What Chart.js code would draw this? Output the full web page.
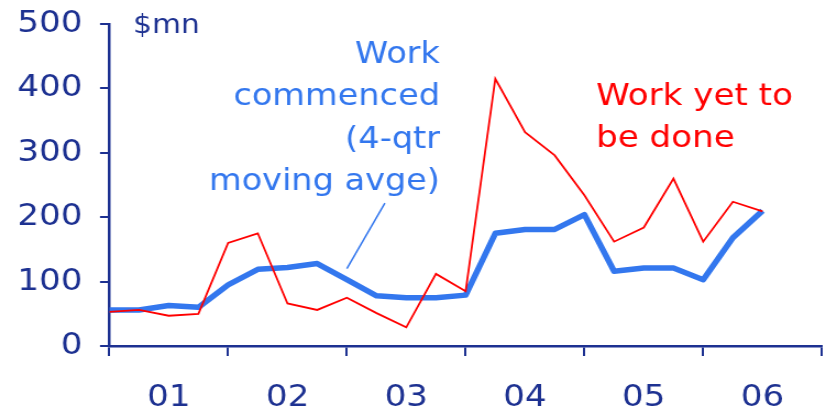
<!DOCTYPE html>
<html>
<head>
<meta charset="utf-8">
<script src="https://cdn.jsdelivr.net/npm/chart.js@4"></script>
<style>
  html, body { margin: 0; padding: 0; background: #fff; }
  #chart { display: block; width: 826px; height: 411px; }
</style>
</head>
<body>
<canvas id="chart" width="751" height="411" style="width:826px;height:411px"></canvas>
<script>
// quarterly data, 2001 Q1 to 2006 Q3
const quarters = ['01Q1','01Q2','01Q3','01Q4','02Q1','02Q2','02Q3','02Q4',
  '03Q1','03Q2','03Q3','03Q4','04Q1','04Q2','04Q3','04Q4',
  '05Q1','05Q2','05Q3','05Q4','06Q1','06Q2','06Q3'];
const workCommenced = [56, 56, 63, 60, 95, 119, 122, 128, 103, 78, 75, 75,
  79, 175, 181, 181, 204, 116, 121, 121, 103, 168, 210];
const workYetToBeDone = [53, 56, 47, 50, 160, 175, 66, 56, 75, 51, 29, 112,
  85, 415, 332, 296, 234, 162, 184, 260, 162, 224, 209];
const yearLabels = ['01', '02', '03', '04', '05', '06'];
const xTickValues = [0, 2, 4, 6, 8, 10, 12, 14, 16, 18, 20, 22, 24];
const yTickValues = [0, 100, 200, 300, 400, 500];

const navy = '#1d3191';
const blue = '#3377ee';
const red = '#ff0000';
const fontFamily = '"DejaVu Sans", Verdana, sans-serif';

// labels drawn on top of the chart
const annotations = {
  id: 'annotations',
  afterDraw(chart) {
    const ctx = chart.ctx;
    const x = chart.scales.x;
    const y = chart.scales.y;
    ctx.save();

    ctx.fillStyle = navy;
    ctx.font = '27px ' + fontFamily;
    ctx.textAlign = 'left';
    ctx.textBaseline = 'alphabetic';
    ctx.fillText('$mn', 121, 33);

    ctx.fillStyle = blue;
    ctx.font = '30.5px ' + fontFamily;
    ctx.textAlign = 'right';
    ['Work', 'commenced', '(4-qtr', 'moving avge)'].forEach((t, i) => {
      ctx.fillText(t, 400, 63 + 42.3 * i);
    });

    ctx.fillStyle = red;
    ctx.font = '31px ' + fontFamily;
    ctx.textAlign = 'left';
    ['Work yet to', 'be done'].forEach((t, i) => {
      ctx.fillText(t, 542, 105 + 42 * i);
    });

    // leader line to the moving average
    ctx.strokeStyle = blue;
    ctx.lineWidth = 1.5;
    ctx.beginPath();
    ctx.moveTo(x.getPixelForValue(8.0), y.getPixelForValue(120));
    ctx.lineTo(x.getPixelForValue(9.28), y.getPixelForValue(222));
    ctx.stroke();
    ctx.restore();
  }
};

new Chart(document.getElementById('chart'), {
  type: 'line',
  data: {
    labels: quarters,
    datasets: [
      {
        label: 'Work yet to be done',
        data: workYetToBeDone.map((v, i) => ({ x: i, y: v })),
        borderColor: red,
        borderWidth: 1.8,
        pointRadius: 0,
        tension: 0,
        order: 0
      },
      {
        label: 'Work commenced (4-qtr moving avge)',
        data: workCommenced.map((v, i) => ({ x: i, y: v })),
        borderColor: blue,
        borderWidth: 5.5,
        borderJoinStyle: 'round',
        pointRadius: 0,
        tension: 0,
        order: 1
      }
    ]
  },
  options: {
    responsive: false,
    animation: false,
    devicePixelRatio: 1,
    layout: { padding: { top: 24, right: 3.7, bottom: 0, left: 0 } },
    plugins: {
      legend: { display: false },
      tooltip: { enabled: false }
    },
    scales: {
      x: {
        type: 'linear',
        min: 0,
        max: 24,
        afterBuildTicks(scale) {
          scale.ticks = xTickValues.map(v => ({ value: v }));
        },
        afterFit(scale) {
          scale.height = 65;
          scale.paddingLeft = 0;
          scale.paddingRight = 0;
        },
        ticks: {
          autoSkip: false,
          maxRotation: 0,
          padding: 23,
          color: navy,
          font: { family: fontFamily, size: 31 },
          callback: v => (v % 4 === 2 ? yearLabels[(v - 2) / 4] : '')
        },
        grid: {
          drawOnChartArea: false,
          tickLength: 10,
          lineWidth: 2,
          color: c => (c.tick && c.tick.value % 4 === 0 ? navy : 'rgba(0,0,0,0)')
        },
        border: { display: true, color: navy, width: 2.5 }
      },
      y: {
        min: 0,
        max: 500,
        afterBuildTicks(scale) {
          scale.ticks = yTickValues.map(v => ({ value: v }));
        },
        afterFit(scale) {
          scale.width = 99.4;
          scale.paddingTop = 0;
          scale.paddingBottom = 0;
        },
        ticks: {
          padding: 16,
          color: navy,
          font: { family: fontFamily, size: 31 }
        },
        grid: {
          drawOnChartArea: false,
          tickLength: 8.5,
          lineWidth: 2,
          color: navy
        },
        border: { display: true, color: navy, width: 2.5 }
      }
    }
  },
  plugins: [annotations]
});
</script>
</body>
</html>
